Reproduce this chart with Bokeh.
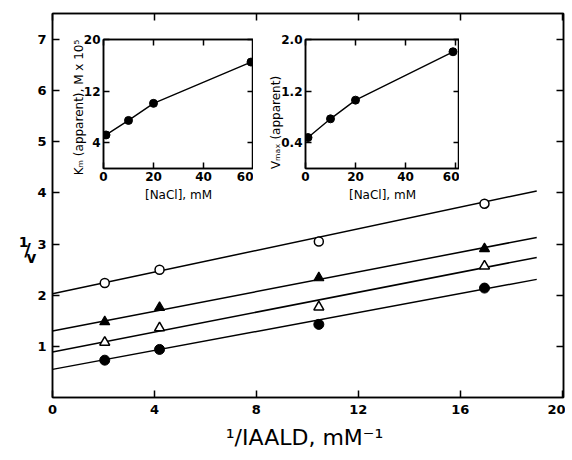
import math
from bokeh.plotting import figure
from bokeh.models import (GridBox, LinearAxis, FixedTicker, Label, Range1d,
                          PrintfTickFormatter)
from bokeh.embed import file_html
from bokeh.resources import INLINE

# ---- main Lineweaver-Burk data ----
x_inv_iaald = [2.05, 4.2, 10.45, 16.95]
inv_v_open_circle = [2.24, 2.50, 3.05, 3.79]
inv_v_filled_triangle = [1.48, 1.76, 2.34, 2.91]
inv_v_open_triangle = [1.08, 1.36, 1.77, 2.57]
inv_v_filled_circle = [0.73, 0.94, 1.43, 2.14]
fit_x = [0.0, 19.0]
fit_open_circle = [2.03, 4.04]
fit_filled_triangle = [1.30, 3.13]
fit_open_triangle = [0.89, 2.74]
fit_filled_circle = [0.55, 2.31]
main_x_ticks = [0, 4, 8, 12, 16, 20]
main_y_ticks = [1, 2, 3, 4, 5, 6, 7]

# ---- inset data ----
nacl_mM = [1, 10, 20, 59]
km_apparent = [5.2, 7.45, 10.1, 16.5]
vmax_apparent = [0.48, 0.77, 1.06, 1.81]
inset_x_ticks = [0, 20, 40, 60]
km_ticks = [4, 12, 20]
vmax_ticks = [0.4, 1.2, 2.0]

FONT = "DejaVu Sans"


def style_axis(ax, ticks, tick_len, show_labels=True, size="13px", standoff=6):
    ax.ticker = FixedTicker(ticks=ticks)
    ax.major_tick_in = tick_len
    ax.major_tick_out = 0
    ax.minor_tick_line_color = None
    ax.axis_line_width = 1.5
    ax.major_tick_line_width = 1.5
    ax.axis_line_color = "black"
    ax.major_tick_line_color = "black"
    ax.major_label_text_font = FONT
    ax.major_label_text_font_style = "bold"
    ax.major_label_text_color = "black"
    if show_labels:
        ax.major_label_text_font_size = size
        ax.major_label_standoff = standoff
    else:
        ax.major_label_text_font_size = "2px"
        ax.major_label_overrides = {t: "" for t in ticks}
        ax.major_label_standoff = 0


def mirror(fig, xticks, yticks, tick_len):
    top = LinearAxis()
    right = LinearAxis()
    style_axis(top, xticks, tick_len, show_labels=False)
    style_axis(right, yticks, tick_len, show_labels=False)
    fig.add_layout(top, "above")
    fig.add_layout(right, "right")


# ---------------- main figure ----------------
p = figure(frame_width=511, frame_height=384,
           x_range=Range1d(0, 20.05), y_range=Range1d(0, 7.51),
           output_backend="svg", toolbar_location=None,
           min_border_left=52, min_border_top=13, min_border_right=2,
           min_border_bottom=55, frame_align=False)
p.xgrid.visible = False
p.ygrid.visible = False
p.outline_line_color = "black"
p.outline_line_width = 1.5
xax = p.xaxis[0]
yax = p.yaxis[0]
style_axis(xax, main_x_ticks, 7, size="13px", standoff=7)
style_axis(yax, main_y_ticks, 7, size="13px", standoff=6)
xax.axis_label = "\u00b9/IAALD,  mM\u207b\u00b9"
xax.axis_label_text_font = FONT
xax.axis_label_text_font_style = "normal"
xax.axis_label_text_font_size = "22px"
xax.axis_label_text_color = "black"
xax.axis_label_standoff = 8
mirror(p, main_x_ticks, main_y_ticks, 7)

for fy in (fit_open_circle, fit_filled_triangle, fit_open_triangle, fit_filled_circle):
    p.line(fit_x, fy, line_color="black", line_width=1.5)

p.scatter(x_inv_iaald, inv_v_open_circle, marker="circle", size=9,
          fill_color="white", line_color="black", line_width=1.5)
p.scatter(x_inv_iaald, inv_v_filled_triangle, marker="triangle", size=10,
          fill_color="black", line_color="black", line_width=1.2)
p.scatter(x_inv_iaald, inv_v_open_triangle, marker="triangle", size=10,
          fill_color="white", line_color="black", line_width=1.5)
p.scatter(x_inv_iaald, inv_v_filled_circle, marker="circle", size=10,
          fill_color="black", line_color="black", line_width=1)


# ---------------- insets ----------------
def make_inset(left, width, yr, yticks, ydata, fmt=None):
    f = figure(frame_width=width, frame_height=129,
               x_range=Range1d(0, 60 * width / 150.0), y_range=yr,
               output_backend="svg", toolbar_location=None,
               min_border_left=left, min_border_top=39, min_border_right=0,
               min_border_bottom=30, frame_align=False,
               background_fill_color=None, border_fill_color=None)
    f.xgrid.visible = False
    f.ygrid.visible = False
    f.outline_line_color = "black"
    f.outline_line_width = 1.5
    fx = f.xaxis[0]
    fy = f.yaxis[0]
    style_axis(fx, inset_x_ticks, 6, size="12px", standoff=3)
    style_axis(fy, yticks, 6, size="12px", standoff=3)
    if fmt:
        fy.formatter = PrintfTickFormatter(format=fmt)
    fx.axis_label = "[NaCl], mM"
    fx.axis_label_text_font = FONT
    fx.axis_label_text_font_style = "normal"
    fx.axis_label_text_font_size = "12px"
    fx.axis_label_text_color = "black"
    fx.axis_label_standoff = 4
    mirror(f, inset_x_ticks, yticks, 6)
    f.line(nacl_mM, ydata, line_color="black", line_width=1.4)
    f.scatter(nacl_mM, ydata, marker="circle", size=8,
              fill_color="black", line_color="black")
    return f


ins1 = make_inset(103, 150, Range1d(0, 20), km_ticks, km_apparent)
ins2 = make_inset(305, 154, Range1d(0, 2.0), vmax_ticks, vmax_apparent, fmt="%.1f")

# ---------------- transparent overlay for free-standing texts ----------------
ov = figure(width=565, height=455, x_range=Range1d(0, 565), y_range=Range1d(455, 0),
            output_backend="svg", toolbar_location=None,
            x_axis_type=None, y_axis_type=None, min_border=0,
            outline_line_color=None, background_fill_color=None,
            border_fill_color=None, frame_align=False)
ov.xgrid.visible = False
ov.ygrid.visible = False

# "1/v" y-axis title of main plot
for txt, lx, ly, fs in (("1", 23, 241, "14px"), ("/", 27, 249, "18px"),
                        ("v", 31, 257, "15px")):
    ov.add_layout(Label(x=lx, y=ly, text=txt, text_font=FONT, text_font_size=fs,
                        text_font_style="bold", text_align="center",
                        text_baseline="middle", text_color="black"))

# inset y-axis titles
for txt, lx, ly in (("K\u2098 (apparent), M x 10\u2075", 78, 107),
                    ("V\u2098\u2090\u2093 (apparent)", 275, 122)):
    ov.add_layout(Label(x=lx, y=ly, text=txt, angle=math.pi / 2,
                        text_font=FONT, text_font_size="12px",
                        text_align="center", text_baseline="middle",
                        text_color="black"))

grid = GridBox(children=[(p, 0, 0), (ins1, 0, 0), (ins2, 0, 0), (ov, 0, 0)])

open("out.html", "w").write(file_html(grid, INLINE))
